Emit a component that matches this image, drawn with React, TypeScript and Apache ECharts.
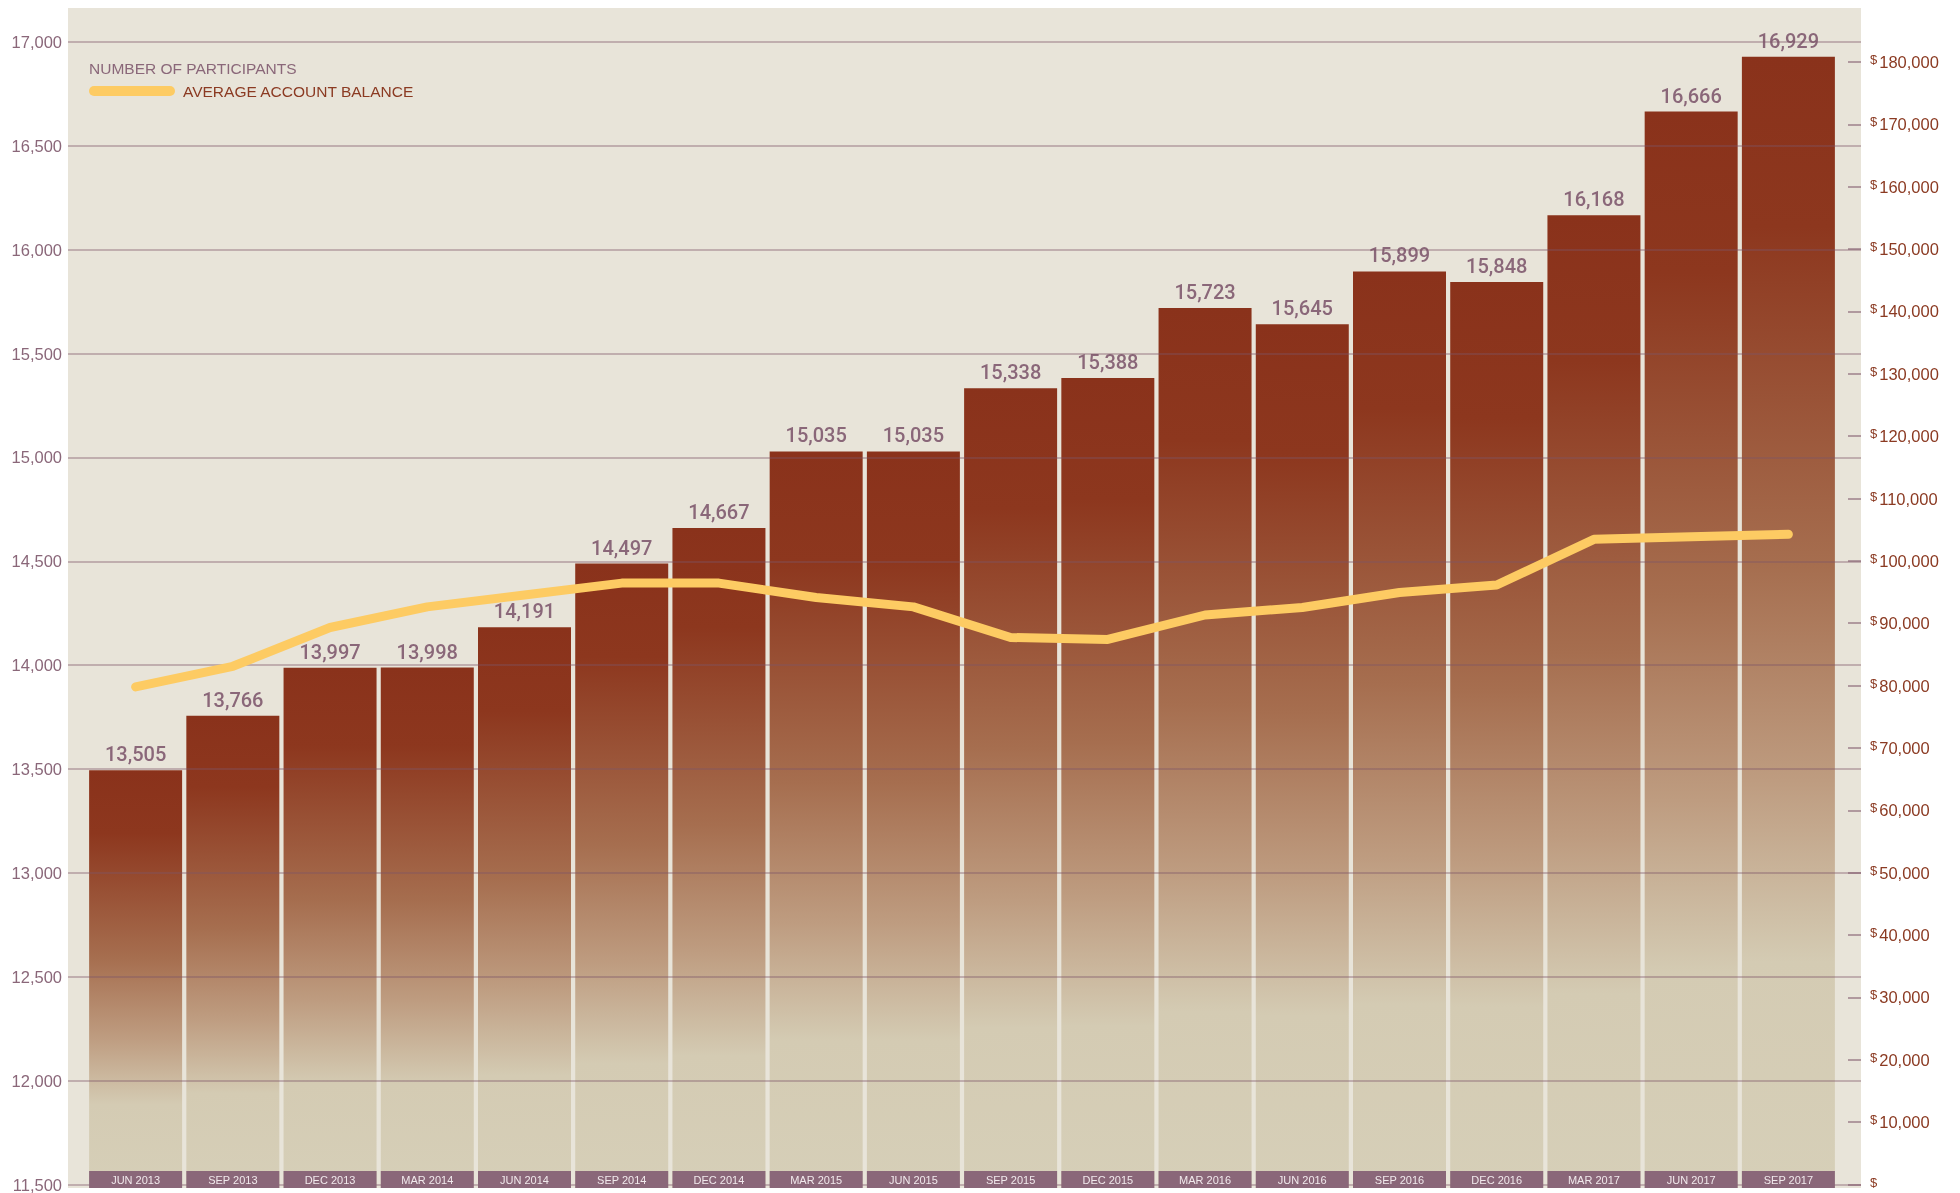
import React, { useEffect, useRef } from 'react';
import * as echarts from 'echarts';

const categories = ['JUN 2013', 'SEP 2013', 'DEC 2013', 'MAR 2014', 'JUN 2014', 'SEP 2014', 'DEC 2014', 'MAR 2015', 'JUN 2015', 'SEP 2015', 'DEC 2015', 'MAR 2016', 'JUN 2016', 'SEP 2016', 'DEC 2016', 'MAR 2017', 'JUN 2017', 'SEP 2017'];
const participants = [13505, 13766, 13997, 13998, 14191, 14497, 14667, 15035, 15035, 15338, 15388, 15723, 15645, 15899, 15848, 16168, 16666, 16929];
const avgBalance = [80100, 83400, 89600, 92900, 94800, 96700, 96700, 94400, 92900, 88000, 87700, 91600, 92800, 95200, 96400, 103700, 104100, 104500];
const rightTicks = [0, 10000, 20000, 30000, 40000, 50000, 60000, 70000, 80000, 90000, 100000, 110000, 120000, 130000, 140000, 150000, 160000, 170000, 180000];
const leftMin = 11500;
const leftMax = 17000;
const leftStep = 500;
const rightMax = 183200;

const MAUVE = '#8A6779';
const RUST = '#8B3A22';
const BG = '#E8E4D9';
const YELLOW = '#FDCB63';
const FONT = 'Liberation Sans';

const fmt = (v: number) => v.toLocaleString('en-US');

export default function App() {
  const ref = useRef<HTMLDivElement>(null);
  useEffect(() => {
    const chart = echarts.init(ref.current!, null, { renderer: 'svg' });
    const gradient = new echarts.graphic.LinearGradient(0, 0, 0, 1, [
      { offset: 0, color: '#8A321B' },
      { offset: 0.15, color: '#8D371E' },
      { offset: 0.45, color: '#A66E4F' },
      { offset: 0.64, color: '#BE9C80' },
      { offset: 0.8, color: '#D4CBB3' },
      { offset: 1, color: '#D6CFB8' },
    ]);
    chart.setOption({
      animation: false,
      grid: [
        { left: 68, right: 99, top: 42, bottom: 5 },
        { left: 87, right: 123, top: 42, bottom: 5 },
      ],
      graphic: [
        { type: 'rect', z: -10, shape: { x: 68, y: 8, width: 1793, height: 1180 }, style: { fill: BG } },
        { type: 'text', x: 89, y: 68, style: { text: 'NUMBER OF PARTICIPANTS', fill: MAUVE, font: `15.5px "${FONT}"`, verticalAlign: 'middle' } },
        { type: 'line', shape: { x1: 94, y1: 91, x2: 170, y2: 91 }, style: { stroke: YELLOW, lineWidth: 10, lineCap: 'round' } },
        { type: 'text', x: 183, y: 91, style: { text: 'AVERAGE ACCOUNT BALANCE', fill: RUST, font: `15.5px "${FONT}"`, verticalAlign: 'middle' } },
      ],
      xAxis: [
        { gridIndex: 0, type: 'value', show: false, min: 0, max: 1 },
        {
          gridIndex: 1, type: 'category', data: categories, z: 6,
          axisLine: { show: false }, axisTick: { show: false },
          axisLabel: {
            interval: 0, margin: -17, width: 93, height: 17, lineHeight: 17,
            backgroundColor: MAUVE, color: '#F1E9EC', fontSize: 11, fontFamily: FONT, align: 'center',
          },
        },
      ],
      yAxis: [
        {
          gridIndex: 0, type: 'value', position: 'left', min: leftMin, max: leftMax, interval: leftStep, z: 3,
          axisLine: { show: false }, axisTick: { show: false },
          axisLabel: { margin: 6, color: MAUVE, fontSize: 16.5, fontFamily: FONT, formatter: (v: number) => fmt(v) },
          splitLine: { lineStyle: { color: 'rgba(125,85,105,0.5)', width: 1.5 } },
        },
        {
          gridIndex: 0, type: 'value', position: 'right', min: 0, max: rightMax, interval: 10000, z: 3,
          axisLine: { show: false },
          axisTick: { show: true, inside: true, length: 13, customValues: rightTicks, lineStyle: { color: 'rgba(125,85,105,0.7)', width: 1.5 } },
          axisLabel: {
            margin: 9, customValues: rightTicks,
            formatter: (v: number) => (v === 0 ? '{s|$}' : '{s|$}{n|' + fmt(v) + '}'),
            rich: {
              s: { fontSize: 13, color: RUST, fontFamily: FONT, padding: [0, 2, 5, 0] },
              n: { fontSize: 16.5, color: RUST, fontFamily: FONT },
            },
          },
          splitLine: { show: false },
        },
        { gridIndex: 1, type: 'value', min: leftMin, max: leftMax, show: false },
        { gridIndex: 1, type: 'value', min: 0, max: rightMax, show: false },
      ],
      series: [
        {
          type: 'bar', xAxisIndex: 1, yAxisIndex: 2, data: participants, barWidth: 93, z: 2,
          itemStyle: { color: gradient },
          label: {
            show: true, position: 'top', distance: 6, color: MAUVE, fontSize: 20, fontFamily: 'Roboto', fontWeight: 500,
            formatter: (p: any) => fmt(p.value),
          },
        },
        {
          type: 'line', xAxisIndex: 1, yAxisIndex: 3, data: avgBalance, symbol: 'none', z: 5,
          lineStyle: { color: YELLOW, width: 9, cap: 'round', join: 'round' },
        },
      ],
    });
    return () => chart.dispose();
  }, []);
  return <div ref={ref} style={{ position: 'fixed', left: 0, top: 0, width: 1960, height: 1193 }} />;
}
